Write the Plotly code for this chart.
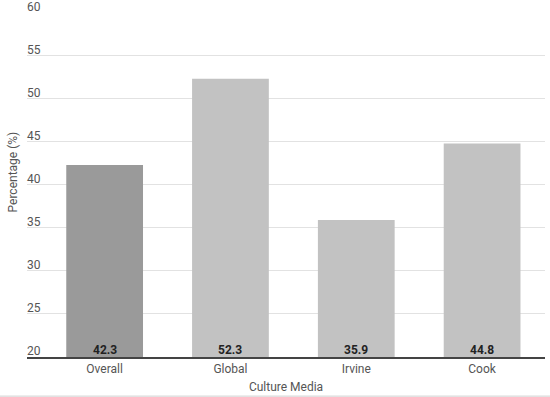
import plotly.graph_objects as go

categories = ["Overall", "Global", "Irvine", "Cook"]
values = [42.3, 52.3, 35.9, 44.8]
y_ticks = [20, 25, 30, 35, 40, 45, 50, 55, 60]

bar_colors = ["#9a9a9a", "#c2c2c2", "#c2c2c2", "#c2c2c2"]
FONT = "Roboto, Arial, sans-serif"
AXIS_MIN, AXIS_MAX = 20, 60.06

fig = go.Figure()
fig.add_trace(go.Bar(
    x=categories, y=values,
    marker=dict(color=bar_colors, line=dict(width=0)),
    width=0.61,
    hovertemplate="%{x}: %{y:.1f}<extra></extra>",
))

annotations = [
    dict(x=c, y=AXIS_MIN, xref="x", yref="y", text=f"<b>{v:.1f}</b>",
         showarrow=False, yanchor="bottom", yshift=-2,
         font=dict(family=FONT, size=12, color="#222222"))
    for c, v in zip(categories, values)
]
# y tick labels drawn above their gridlines (left-aligned, inside plot)
annotations += [
    dict(x=0, y=t, xref="paper", yref="y", text=str(t), showarrow=False,
         xanchor="left", yanchor="bottom", yshift=-3, xshift=-2,
         font=dict(family=FONT, size=12, color="#555555"))
    for t in y_ticks
]
annotations.append(dict(
    x=-0.027, y=0.535, xref="paper", yref="paper", text="Percentage (%)",
    textangle=-90, showarrow=False, xanchor="center", yanchor="middle",
    font=dict(family=FONT, size=12, color="#555555")))

fig.update_layout(
    width=550, height=397,
    margin=dict(l=27, r=5, t=12, b=40),
    paper_bgcolor="white", plot_bgcolor="white",
    showlegend=False,
    font=dict(family=FONT, size=12, color="#555555"),
    xaxis=dict(
        type="category", range=[-0.617, 3.5],
        showgrid=False, showline=True, linecolor="#444444", linewidth=2,
        ticks="", tickfont=dict(size=12, color="#555555"),
        title=dict(text="Culture Media", font=dict(size=12, color="#555555"), standoff=7),
    ),
    yaxis=dict(
        range=[AXIS_MIN, AXIS_MAX], tickvals=y_ticks,
        showgrid=True, gridcolor="#e2e2e2", gridwidth=1,
        zeroline=False, showline=False, ticks="", showticklabels=False,
    ),
    annotations=annotations,
    shapes=[dict(type="line", xref="paper", yref="paper", x0=-0.06, x1=1.02,
                 y0=-0.1134, y1=-0.1134, line=dict(color="#d0d0d0", width=1))],
)

fig.write_html("out.html")
